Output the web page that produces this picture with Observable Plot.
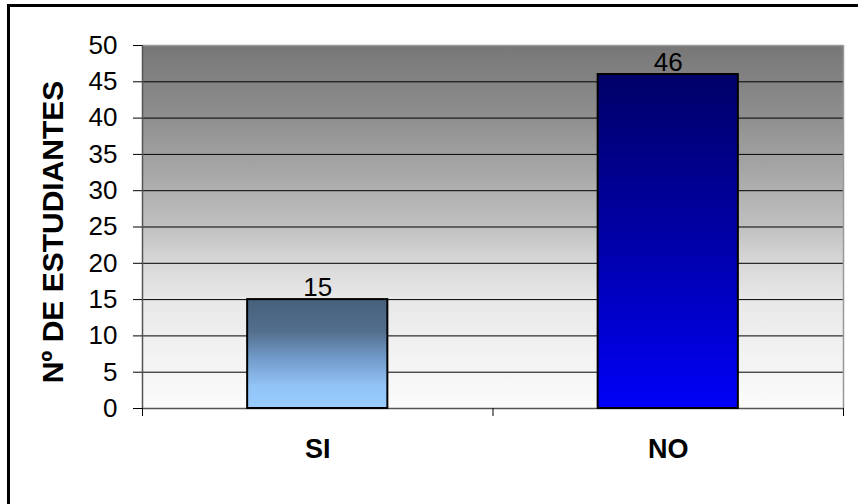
<!DOCTYPE html>
<html><head><meta charset="utf-8">
<script src="https://cdn.jsdelivr.net/npm/d3@7"></script>
<script src="https://cdn.jsdelivr.net/npm/@observablehq/plot@0.6"></script>
<style>
body{margin:0;background:#fff;overflow:hidden;}
#wrap{position:relative;width:858px;height:504px;overflow:hidden;}
#frame{position:absolute;left:7px;top:4px;width:900px;height:600px;border:3px solid #000;box-sizing:border-box;pointer-events:none;}
#wrap svg{position:absolute;left:0;top:0;}
</style></head><body><div id="wrap"><div id="frame"></div></div>
<script>
const categories = ["SI", "NO"];
const values = [15, 46];
const yTicks = [0, 5, 10, 15, 20, 25, 30, 35, 40, 45, 50];
const yLabel = "Nº DE ESTUDIANTES";

const barStops = [
  [[0, "#46607a"], [0.3, "#536f8e"], [0.55, "#729ccb"], [0.8, "#92c4f6"], [1, "#99ccff"]],
  [[0, "#000068"], [0.5, "#0000a8"], [1, "#0000f8"]]
];
const bgStops = [[0, "#777777"], [0.2, "#8f8f8f"], [0.5, "#c0c0c0"], [0.6, "#d8d8d8"], [0.7, "#e8e8e8"], [1, "#fcfcfc"]];

const data = categories.map((c, i) => ({cat: c, value: values[i], i}));
const n = categories.length;

const plot = Plot.plot({
  width: 858, height: 504,
  marginTop: 45, marginBottom: 96, marginLeft: 142, marginRight: 15,
  style: {fontFamily: "'Liberation Sans', Arial, sans-serif", fontSize: "26px", background: "transparent", color: "#000"},
  x: {domain: [0, n], axis: null},
  y: {domain: [0, 50], axis: null},
  color: {type: "identity"},
  marks: [
    Plot.frame({fill: "url(#bg)", stroke: null}),
    Plot.gridY(yTicks.filter(t => t > 0 && t < 50), {stroke: "#000", strokeOpacity: 1}),
    Plot.ruleY([50], {stroke: "#999", strokeWidth: 1.5}),
    Plot.ruleX([n], {stroke: "#999", strokeWidth: 1.5}),
    Plot.ruleY([0], {stroke: "#555", strokeWidth: 1.5}),
    Plot.ruleX([0], {stroke: "#555", strokeWidth: 1.5}),
    Plot.axisX(d3.range(0, n + 1), {tickSize: 8, tickFormat: () => "", stroke: "#000"}),
    Plot.axisY(yTicks, {tickSize: 9, tickPadding: 16, stroke: "#000", label: null, fontSize: 26}),
    Plot.text([yLabel], {frameAnchor: "left", textAnchor: "middle", dx: -89, dy: 5, rotate: -90, fontWeight: "bold", fontSize: 30, text: d => d}),
    Plot.rectY(data, {x1: d => d.i + 0.3, x2: d => d.i + 0.7, y: "value", fill: d => `url(#bar${d.i})`, stroke: "#000", strokeWidth: 2}),
    Plot.text(data, {x: d => d.i + 0.5, y: "value", text: d => String(d.value), lineAnchor: "bottom", dy: -4, fontSize: 26}),
    Plot.text(data, {x: d => d.i + 0.5, text: "cat", frameAnchor: "bottom", lineAnchor: "middle", dy: 41, fontWeight: "bold", fontSize: 27})
  ]
});

const defs = d3.select(plot).insert("defs", ":first-child");
const bg = defs.append("linearGradient").attr("id", "bg").attr("x1", 0).attr("y1", 0).attr("x2", 0).attr("y2", 1);
bgStops.forEach(([o, c]) => bg.append("stop").attr("offset", o).attr("stop-color", c));
barStops.forEach((stops, i) => {
  const g = defs.append("linearGradient").attr("id", `bar${i}`).attr("x1", 0).attr("y1", 0).attr("x2", 0).attr("y2", 1);
  stops.forEach(([o, c]) => g.append("stop").attr("offset", o).attr("stop-color", c));
});

document.getElementById("wrap").insertBefore(plot, document.getElementById("frame"));
</script>
</body></html>
